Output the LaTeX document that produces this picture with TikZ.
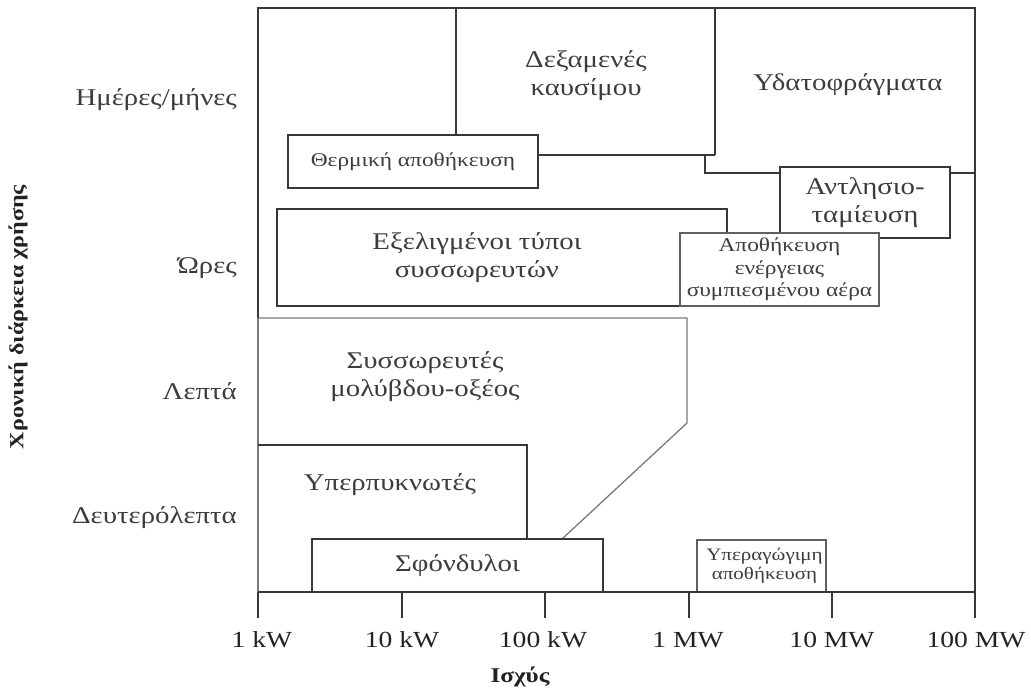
\documentclass[tikz,border=0pt]{standalone}
\usepackage{fontspec}
\setmainfont[FakeStretch=1.2]{Liberation Serif}
\definecolor{frame}{HTML}{383838}
\definecolor{thinc}{HTML}{7A7A7A}
\definecolor{txt}{HTML}{3C3C3C}
\definecolor{axtxt}{HTML}{222222}
\begin{document}
\begin{tikzpicture}[x=1pt,y=-1pt,
  thk/.style={line width=2.8pt, draw=frame},
  med/.style={line width=1.8pt, draw=frame},
  thn/.style={line width=1.3pt, draw=thinc},
  lbl/.style={text=txt, font=\fontsize{24}{28}\selectfont, align=center, inner sep=0pt},
  sml/.style={text=txt, font=\fontsize{19.5}{22.5}\selectfont, align=center, inner sep=0pt},
  tiny/.style={text=txt, font=\fontsize{17.5}{19}\selectfont, align=center, inner sep=0pt},
  ylab/.style={text=txt, font=\fontsize{24}{26}\selectfont, anchor=east, inner sep=0pt},
  xlab/.style={text=axtxt, font=\fontsize{23}{26}\selectfont, inner sep=0pt},
  boxthk/.style={thk, fill=white, inner sep=0pt},
  boxthn/.style={med, draw=frame!80, fill=white, inner sep=0pt},
]
\useasboundingbox (0,0) rectangle (1031,693);
% outer frame
\draw[thk] (258,320) -- (258,8) -- (975,8) -- (975,592);
\draw[thn] (258,318) -- (258,592);
% fuel tanks region
\draw[med] (456,8) -- (456,135);
\draw[thn,draw=frame] (538,155) -- (715,155);
\draw[thk] (715,8) -- (715,155);
% hydro region
\draw[thn,draw=frame] (705,155) -- (705,173) -- (780,173);
\draw[thn,draw=frame] (950,173) -- (975,173);
% lead-acid region
\draw[thn] (258,318) -- (687,318) -- (687,423) -- (562,539);
% supercapacitors region
\draw[med] (258,445) -- (527,445) -- (527,539);
% boxes
\node[boxthk, minimum width=250pt, minimum height=53pt] (thermal) at (413,161.5) {};
\node[boxthk, minimum width=450pt, minimum height=97pt] (adv) at (502,257.5) {};
\node[boxthk, minimum width=170pt, minimum height=71pt] (pumped) at (865,202.5) {};
\node[boxthn, minimum width=199pt, minimum height=73pt] (caes) at (779.5,269.5) {};
\node[boxthk, minimum width=291pt, minimum height=53pt] (fly) at (457.5,565.5) {};
\node[boxthn, minimum width=129pt, minimum height=52pt] (sc) at (761.5,566) {};
% axis
\draw[thk] (258,592) -- (975,592);
\foreach \x/\n in {258/t1,402/t2,545/t3,689/t4,832/t5,975/t6}
  \draw[med] (\x,592) -- (\x,618) coordinate (\n);
% texts
\node[lbl] (fuel) at (586,76) {Δεξαμενές\\καυσίμου};
\node[lbl] (hydro) at (848,85) {Υδατοφράγματα};
\node[sml] at (thermal.center) {Θερμική αποθήκευση};
\node[lbl] at (pumped.center) {Αντλησιο-\\ταμίευση};
\node[lbl] (advt) at (477,258) {Εξελιγμένοι τύποι\\συσσωρευτών};
\node[sml] at (caes.center) {Αποθήκευση\\ενέργειας\\συμπιεσμένου αέρα};
\node[lbl] (lead) at (425,377) {Συσσωρευτές\\μολύβδου-οξέος};
\node[lbl] (supc) at (390,485) {Υπερπυκνωτές};
\node[lbl] at (fly.center) {Σφόνδυλοι};
\node[tiny] at ([xshift=3pt]sc.center) {Υπεραγώγιμη\\αποθήκευση};
% y labels
\node[ylab] (y1) at (237,100) {Ημέρες/μήνες};
\node[ylab] (y2) at (237,268) {Ώρες};
\node[ylab] (y3) at (237,391) {Λεπτά};
\node[ylab] (y4) at (237,518) {Δευτερόλεπτα};
\node[text=axtxt, font=\bfseries\fontsize{20}{24}\selectfont, rotate=90, inner sep=0pt] (ytitle) at (18,317) {Χρονική διάρκεια χρήσης};
% x labels
\node[xlab] at (262,640) {1 kW};
\node[xlab] at (402,640) {10 kW};
\node[xlab] at (543,640) {100 kW};
\node[xlab] at (688,640) {1 MW};
\node[xlab] at (832,640) {10 MW};
\node[xlab] at (976,640) {100 MW};
\node[text=axtxt, font=\bfseries\fontsize{21}{24}\selectfont, inner sep=0pt] (xtitle) at (520,677) {Ισχύς};
\end{tikzpicture}
\end{document}
